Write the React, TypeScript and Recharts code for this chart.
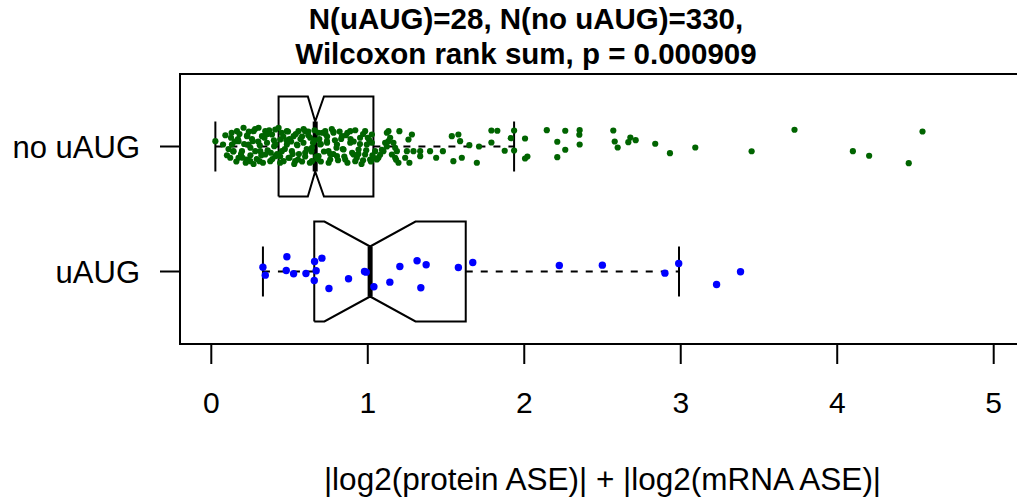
import { ScatterChart, Scatter, XAxis, YAxis, ReferenceLine, ReferenceArea } from 'recharts';

// ---------------------------------------------------------------------------
// Données
// ---------------------------------------------------------------------------
const GROUPS = ['uAUG', 'no uAUG'];
const GROUP_POS = [1, 2];
const X_TICKS = [0, 1, 2, 3, 4, 5];
const TITLE_LINES = ['N(uAUG)=28, N(no uAUG)=330,', 'Wilcoxon rank sum, p = 0.000909'];
const X_LABEL = '|log2(protein ASE)| + |log2(mRNA ASE)|';

// [whisker bas, Q1, encoche basse, médiane, encoche haute, Q3, whisker haut]
const U_AUG_STATS = [0.33, 0.658, 0.723, 1.015, 1.305, 1.626, 2.989];
const NO_U_AUG_STATS = [0.026, 0.43, 0.617, 0.664, 0.72, 1.036, 1.935];

// points uAUG : valeur + décalage vertical (jitter)
const U_AUG_X = [
  0.330, 0.345, 0.483, 0.479, 0.526, 0.605, 0.660, 0.670, 0.658, 0.707,
  0.752, 0.877, 0.979, 0.990, 1.039, 1.141, 1.205, 1.315, 1.373, 1.339,
  1.579, 1.671, 2.224, 2.499, 2.899, 2.987, 3.229, 3.382,
];
const U_AUG_JITTER = [
  0.035, -0.029, 0.118, 0.008, -0.018, -0.016, 0.08, 0.006, -0.072, 0.107,
  -0.136, -0.058, 0, -0.005, -0.122, -0.085, 0.04, 0.086, 0.054, -0.13,
  0.032, 0.072, 0.048, 0.051, -0.013, 0.064, -0.104, -0.002,
];

// points no uAUG
const NO_U_AUG_X = [
  0.026, 0.075, 0.126, 0.132, 0.164, 0.142, 0.121, 0.174, 0.206, 0.196,
  0.174, 0.228, 0.238, 0.228, 0.270, 0.266, 0.281, 0.249, 0.302, 0.324,
  0.313, 0.308, 0.345, 0.356, 0.345, 0.377, 0.388, 0.402, 0.409, 0.409,
  0.441, 0.451, 0.462, 0.483, 0.483, 0.494, 0.526, 0.515, 0.536, 0.557,
  0.547,
  0.554, 0.600, 0.589, 0.600, 0.632, 0.643, 0.643, 0.685, 0.696, 0.685,
  0.728, 0.739, 0.749, 0.760, 0.781, 0.803, 0.803, 0.835, 0.845, 0.856,
  0.888, 0.888, 0.909, 0.920, 0.951, 0.941, 0.983, 0.994, 0.983, 1.015,
  1.047, 1.068, 1.122, 1.111, 1.100, 1.154, 1.164,
  1.026, 1.026, 1.036, 1.058, 1.132, 1.132, 1.143, 1.175, 1.186, 1.175,
  1.196, 1.202, 1.250, 1.239, 1.260, 1.266, 1.282, 1.292, 1.335, 1.335,
  1.398, 1.437, 1.480, 1.537, 1.547, 1.579, 1.590, 1.601, 1.649,
  1.697, 1.711, 1.790, 1.828, 1.790, 1.875, 1.914, 1.935, 1.935, 2.005,
  2.005, 2.020, 2.144, 2.211, 2.211, 2.262, 2.262, 2.354, 2.352, 2.354,
  2.569, 2.578, 2.597, 2.665, 2.678, 2.712, 2.837, 2.931, 3.093, 3.453,
  3.727, 4.100, 4.204, 4.457, 4.545,
  1.122, 1.090, 1.079, 1.181,
  0.09, 0.11, 0.15, 0.16, 0.18, 0.19, 0.21, 0.22, 0.24, 0.25,
  0.26, 0.28, 0.29, 0.31, 0.33, 0.34, 0.36, 0.37, 0.39, 0.40,
  0.42, 0.43, 0.44, 0.46, 0.47, 0.49, 0.50, 0.51, 0.53, 0.54,
  0.56, 0.57, 0.58, 0.59, 0.61, 0.62, 0.63, 0.65, 0.66, 0.67,
  0.69, 0.70, 0.71, 0.72, 0.74, 0.75, 0.77, 0.78, 0.79, 0.81,
  0.82, 0.84, 0.86, 0.87, 0.89, 0.90, 0.92, 0.93, 0.95, 0.96,
  0.97, 0.99, 1.00, 1.02,
  0.10, 0.13, 0.14, 0.17, 0.20, 0.23, 0.25, 0.27, 0.30, 0.32,
  0.35, 0.38, 0.41, 0.44, 0.45, 0.48, 0.52, 0.55, 0.58, 0.60,
  0.62, 0.64, 0.66, 0.68, 0.70, 0.73, 0.76, 0.78, 0.80, 0.83,
  0.85, 0.87, 0.91, 0.94, 0.97, 1.01, 1.03, 0.36, 0.50, 0.74,
];
const NO_U_AUG_JITTER = [
  0.043, 0.016, 0.07, 0.016, 0.123, -0.037, -0.09, 0.043, 0.15, -0.037,
  -0.09, 0.083, 0.016, -0.104, 0.123, 0.043, -0.037, -0.117, 0.15, 0.083,
  -0.037, -0.117, 0.123, 0.03, -0.064, -0.117, 0.096, 0.003, 0.136, -0.077,
  0.056, -0.037, -0.117, 0.123, 0.016, -0.09, 0.083, -0.037, -0.117, 0.123,
  0.016,
  -0.104, 0.123, 0.03, -0.05, 0.07, -0.117, -0.01, 0.11, 0.016, -0.077,
  0.123, 0.043, -0.037, -0.104, 0.11, 0.016, -0.077, 0.083, -0.024, -0.104,
  0.123, 0.03, -0.064, -0.117, 0.07, -0.024, 0.123, 0.016, -0.064, -0.104,
  -0.037, -0.09, 0.11, 0.03, -0.037, -0.064, 0.03,
  0.096, 0.03, -0.09, -0.104, 0.123, 0.043, 0.07, -0.01, -0.037, -0.09,
  -0.13, 0.123, -0.037, -0.09, 0.056, -0.13, 0.096, -0.037, -0.037, -0.077,
  -0.037, -0.09, -0.037, 0.083, -0.117, 0.096, 0.043, -0.09, 0.011,
  -0.13, 0, 0.128, 0.126, 0.032, -0.034, 0.067, 0.128, -0.032, 0.064,
  -0.096, -0.08, 0.131, 0.038, -0.085, 0.126, -0.026, 0.131, 0.094, 0.016,
  0.128, 0.04, -0.008, 0.035, 0.072, 0.051, 0.022, -0.053, -0.008, -0.038,
  0.134, -0.037, -0.074, -0.133, 0.12,
  0, -0.026, -0.066, -0.106,
  0.09, -0.02, 0.04, -0.12, 0.10, -0.06, 0.02, -0.13, 0.12, -0.07,
  0.06, 0.14, -0.10, 0.01, -0.13, 0.07, -0.03, 0.13, -0.10, 0.05,
  -0.06, 0.15, -0.13, 0.08, -0.02, 0.12, -0.09, 0.04, -0.14, 0.10,
  -0.06, 0.06, -0.12, 0.14, -0.02, 0.09, -0.13, 0.03, 0.13, -0.08,
  0.06, -0.12, 0.11, -0.04, 0.08, -0.13, 0.14, -0.06, 0.05, -0.11,
  0.12, -0.02, 0.09, -0.13, 0.06, -0.05, 0.13, -0.09, 0.02, -0.14,
  0.10, -0.03, 0.07, -0.12,
  -0.07, 0.11, -0.04, 0.06, -0.09, 0.09, -0.01, -0.14, 0.04, -0.07,
  0.10, -0.05, 0.02, -0.08, 0.11, 0.05, -0.06, 0.01, 0.08, -0.08,
  0.12, -0.04, 0.05, -0.10, 0.02, 0.10, -0.06, 0.12, -0.01, 0.06,
  -0.08, 0.11, 0.04, -0.06, -0.11, 0.05, -0.07, 0.10, 0.06, 0.03,
];

const GREEN = '#006400';
const BLUE = '#0000FF';
const FONT = '"Liberation Sans", Arial, Helvetica, sans-serif';

const BOX_HALF = 0.4;
const NOTCH_HALF = 0.2;

// ---------------------------------------------------------------------------
// Helpers
// ---------------------------------------------------------------------------
function boxOutline(s: number[], pos: number) {
  const [, q1, nlo, med, nhi, q3] = s;
  const lo = pos - BOX_HALF;
  const hi = pos + BOX_HALF;
  return [
    { x: q1, y: lo }, { x: nlo, y: lo }, { x: med, y: pos - NOTCH_HALF }, { x: nhi, y: lo }, { x: q3, y: lo },
    { x: q3, y: hi }, { x: nhi, y: hi }, { x: med, y: pos + NOTCH_HALF }, { x: nlo, y: hi }, { x: q1, y: hi },
    { x: q1, y: lo },
  ];
}

function points(xs: number[], jit: number[], pos: number) {
  return xs.map((x, i) => ({ x, y: pos + jit[i] }));
}

function boxExtras(s: number[], pos: number, key: string) {
  const [wlo, q1, , med, , q3, whi] = s;
  const line = { stroke: '#000', strokeWidth: 2, ifOverflow: 'visible' as const };
  return [
    <ReferenceLine key={key + 'dl'} segment={[{ x: wlo, y: pos }, { x: q1, y: pos }]} {...line} strokeDasharray="7 8" />,
    <ReferenceLine key={key + 'dh'} segment={[{ x: q3, y: pos }, { x: whi, y: pos }]} {...line} strokeDasharray="7 8" />,
    <ReferenceLine key={key + 'cl'} segment={[{ x: wlo, y: pos - NOTCH_HALF }, { x: wlo, y: pos + NOTCH_HALF }]} {...line} />,
    <ReferenceLine key={key + 'ch'} segment={[{ x: whi, y: pos - NOTCH_HALF }, { x: whi, y: pos + NOTCH_HALF }]} {...line} />,
    <ReferenceLine key={key + 'md'} segment={[{ x: med, y: pos - NOTCH_HALF }, { x: med, y: pos + NOTCH_HALF }]} {...line} strokeWidth={5} />,
  ];
}

const noShape = () => <g />;
const dot = (r: number) => (p: any) => <circle cx={p.cx} cy={p.cy} r={r} fill={p.fill} />;

export default function App() {
  const uAugPts = points(U_AUG_X, U_AUG_JITTER, GROUP_POS[0]);
  const noUAugPts = points(NO_U_AUG_X, NO_U_AUG_JITTER, GROUP_POS[1]);

  return (
    <div style={{ position: 'fixed', left: 0, top: 0, width: 1017, height: 498, overflow: 'hidden', background: '#fff', fontFamily: FONT }}>
      <ScatterChart width={1060} height={498} margin={{ top: 74, right: 35, bottom: 0, left: 0 }}>
        <XAxis
          type="number"
          dataKey="x"
          domain={[-0.2, 5.2]}
          ticks={X_TICKS}
          interval={0}
          allowDataOverflow
          height={154}
          axisLine={false}
          tickSize={20}
          tickMargin={28}
          tickLine={{ stroke: '#000', strokeWidth: 2 }}
          tick={{ fontSize: 30, fill: '#000', fontFamily: FONT }}
          label={{ value: X_LABEL, position: 'insideBottom', offset: 8, fontSize: 31.5, fill: '#000', fontFamily: FONT }}
        />
        <YAxis
          type="number"
          dataKey="y"
          domain={[0.42, 2.58]}
          ticks={GROUP_POS}
          interval={0}
          allowDataOverflow
          width={180}
          axisLine={false}
          tickSize={20}
          tickMargin={20}
          tickLine={{ stroke: '#000', strokeWidth: 2 }}
          tick={{ fontSize: 31, fill: '#000', fontFamily: FONT }}
          tickFormatter={(v: number) => GROUPS[GROUP_POS.indexOf(v)] ?? ''}
        />
        <ReferenceArea x1={-0.2} x2={5.2} y1={0.42} y2={2.58} fill="none" stroke="#000" strokeWidth={2} ifOverflow="visible" />
        {boxExtras(NO_U_AUG_STATS, GROUP_POS[1], 'n')}
        {boxExtras(U_AUG_STATS, GROUP_POS[0], 'u')}
        <Scatter data={boxOutline(NO_U_AUG_STATS, GROUP_POS[1])} line={{ stroke: '#000', strokeWidth: 2 }} lineType="joint" shape={noShape} isAnimationActive={false} />
        <Scatter data={boxOutline(U_AUG_STATS, GROUP_POS[0])} line={{ stroke: '#000', strokeWidth: 2 }} lineType="joint" shape={noShape} isAnimationActive={false} />
        <Scatter data={noUAugPts} fill={GREEN} shape={dot(3.1)} isAnimationActive={false} />
        <Scatter data={uAugPts} fill={BLUE} shape={dot(3.7)} isAnimationActive={false} />
      </ScatterChart>
      <svg width={1017} height={80} style={{ position: 'absolute', left: 0, top: 0, pointerEvents: 'none' }}>
        {TITLE_LINES.map((t, i) => (
          <text key={i} x={526} y={29 + i * 35} textAnchor="middle" fontSize={29.5} fontWeight="bold" fontFamily={FONT} fill="#000">
            {t}
          </text>
        ))}
      </svg>
    </div>
  );
}
